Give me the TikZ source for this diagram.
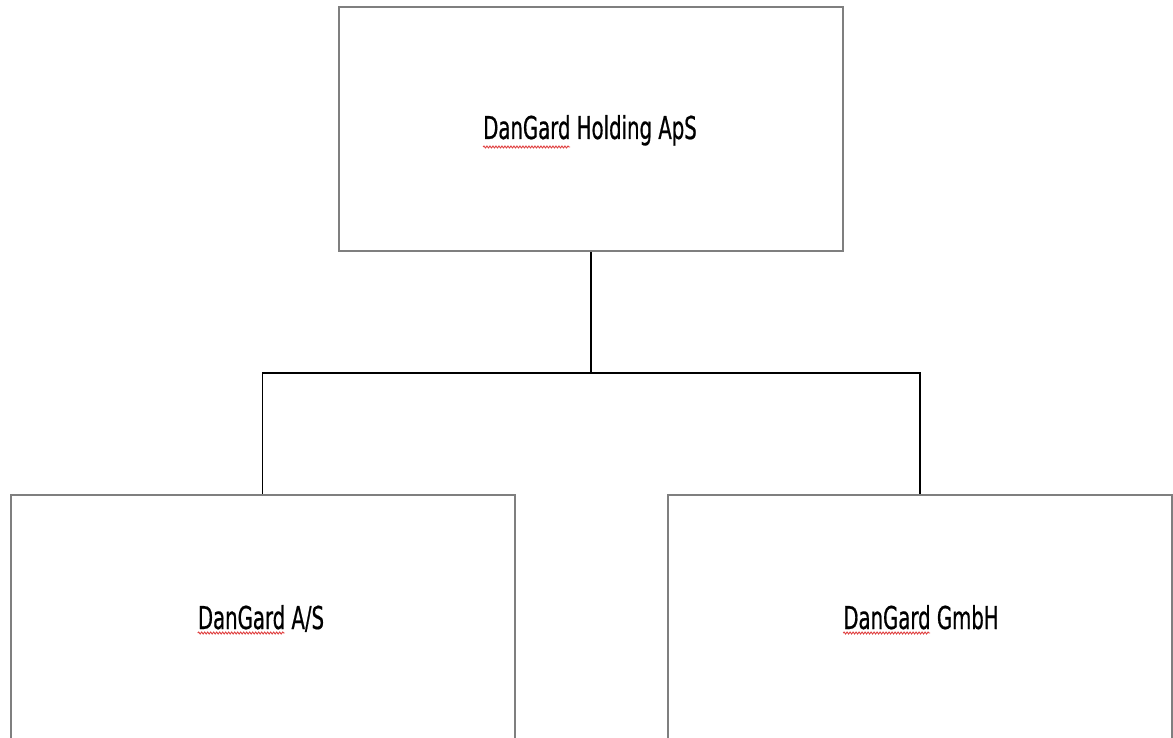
\documentclass[tikz,border=0pt]{standalone}
\usepackage{fontspec}
\setmainfont{DejaVu Sans}[FakeStretch=0.625,FakeBold=0.6]
\usetikzlibrary{calc,decorations.pathmorphing}
\definecolor{boxgray}{HTML}{7F7F7F}
\definecolor{spellred}{HTML}{E04040}
\begin{document}
\begin{tikzpicture}[x=1pt,y=-1pt,
  orgbox/.style={draw=boxgray,line width=2pt,fill=white,inner sep=0pt,minimum width=504pt,minimum height=244pt},
  label/.style={inner sep=0pt,anchor=base,font=\fontsize{31.5}{36}\selectfont},
  link/.style={draw=black,line width=1.2pt},
  spell/.style={draw=spellred,line width=0.9pt,decorate,decoration={snake,amplitude=1pt,segment length=3pt}}]
\useasboundingbox (0,0) rectangle (1173,738);
\clip (0,0) rectangle (1173,738);
\fill[white] (0,0) rectangle (1173,738);
\node[orgbox] (top) at (591,129) {};
\node[orgbox] (left) at (262.5,617) {};
\node[orgbox] (right) at (920,617) {};
\coordinate (j) at (591,373);
\path[link] (top.south) -- (j);
\path[link] (left.north) |- (j) -| (right.north);
\node[label] (t1) at (590,139) {DanGard Holding ApS};
\node[label] (t2) at (261,629) {DanGard A/S};
\node[label] (t3) at (921,629) {DanGard GmbH};
\path[spell] ($(t1.base west)+(0,8)$) -- ($(t1.base west)+(87,8)$);
\path[spell] ($(t2.base west)+(0,4)$) -- ($(t2.base west)+(87,4)$);
\path[spell] ($(t3.base west)+(0,4)$) -- ($(t3.base west)+(87,4)$);
\end{tikzpicture}
\end{document}
